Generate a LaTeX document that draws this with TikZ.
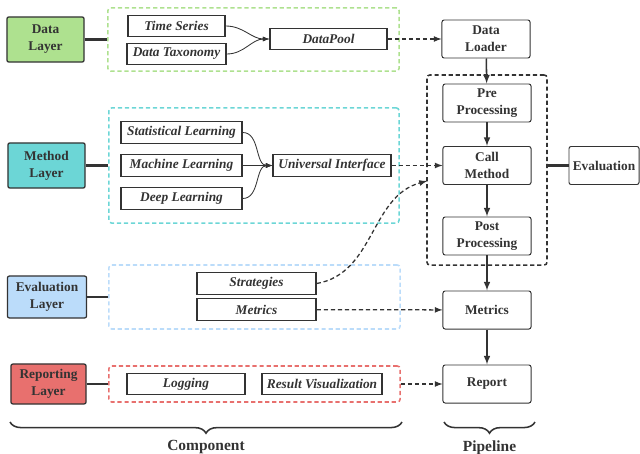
\documentclass[tikz,border=0pt]{standalone}
\usepackage{fontspec}
\setmainfont{Liberation Serif}
\usetikzlibrary{decorations.pathreplacing}
\usepackage{xcolor}

\definecolor{ink}{HTML}{333333}
\definecolor{dataC}{HTML}{AEE18F}
\definecolor{methC}{HTML}{6CD6D6}
\definecolor{evalC}{HTML}{BBDCFA}
\definecolor{repC}{HTML}{E8706E}

\tikzset{
  layer/.style={draw=ink, line width=0.9pt, rounded corners=1.5pt, align=center,
    font=\fontsize{9.5}{12}\selectfont\bfseries, text=ink, inner sep=0pt},
  comp/.style={draw=ink, line width=0.9pt, minimum height=0.54cm, inner sep=0pt,
    font=\fontsize{9.5}{12}\selectfont\bfseries\itshape, text=ink},
  pipe/.style={draw=ink, line width=0.7pt, rounded corners=1.5pt, minimum width=2.2cm,
    minimum height=0.95cm, align=center, inner sep=0pt,
    font=\fontsize{9.5}{12}\selectfont\bfseries, text=ink},
  grp/.style={line width=1.1pt, rounded corners=2pt, dash pattern=on 3pt off 2pt, inner sep=0pt},
  link/.style={draw=ink, line width=1.7pt},
}

\begin{document}
\begin{tikzpicture}[x=0.025cm, y=-0.025cm]
\useasboundingbox (0,0) rectangle (640,454);

% layers
\node[layer, fill=dataC, minimum width=1.93cm, minimum height=1.13cm] at (45.5,39.5) (datal) {Data\\Layer};
\node[layer, fill=methC, minimum width=1.93cm, minimum height=1.13cm] at (46.5,165.5) (methl) {Method\\Layer};
\node[layer, fill=evalC, minimum width=1.98cm, minimum height=1.05cm] at (47,297) (evall) {Evaluation\\Layer};
\node[layer, fill=repC, minimum width=1.88cm, minimum height=1cm] at (48.5,384) (repl) {Reporting\\Layer};

% component groups
\node[grp, draw=dataC, minimum width=7.28cm, minimum height=1.58cm] at (253.5,39.5) (gdata) {};
\node[grp, draw=methC, minimum width=7.25cm, minimum height=2.88cm] at (254,165.5) (gmeth) {};
\node[grp, draw=evalC, minimum width=7.28cm, minimum height=1.6cm] at (254.5,297) (geval) {};
\node[grp, draw=repC, minimum width=7.28cm, minimum height=0.9cm] at (254.5,384) (grep) {};

% components
\node[comp, minimum width=2.43cm] at (176.5,26) (ts) {Time Series};
\node[comp, minimum width=2.48cm] at (176.5,54) (tax) {Data Taxonomy};
\node[comp, minimum width=2.93cm] at (328.5,39) (pool) {DataPool};

\node[comp, minimum width=3.03cm] at (181.5,132.5) (stat) {Statistical Learning};
\node[comp, minimum width=3.03cm] at (181.5,165.5) (ml) {Machine Learning};
\node[comp, minimum width=3.03cm] at (181.5,198.5) (dl) {Deep Learning};
\node[comp, minimum width=2.95cm] at (332,165.5) (ui) {Universal Interface};

\node[comp, minimum width=2.98cm] at (256.5,283.5) (strat) {Strategies};
\node[comp, minimum width=2.98cm] at (256.5,309.5) (metc) {Metrics};

\node[comp, minimum width=2.95cm] at (186,384) (log) {Logging};
\node[comp, minimum width=3cm] at (322,384) (vis) {Result Visualization};

% pipeline
\node[draw=ink, line width=1.1pt, rounded corners=2pt, dash pattern=on 3pt off 2pt,
  minimum width=3cm, minimum height=4.75cm, inner sep=0pt] at (487,170) (gpipe) {};
\node[pipe] at (486,39) (loader) {Data\\Loader};
\node[pipe] at (487,103) (pre) {Pre\\Processing};
\node[pipe] at (487,165.5) (call) {Call\\Method};
\node[pipe] at (487,236) (post) {Post\\Processing};
\node[pipe] at (487,310) (metp) {Metrics};
\node[pipe] at (487,384) (report) {Report};
\node[pipe, minimum width=1.75cm] at (604,165.5) (evalbox) {Evaluation};
\coordinate (callin) at (427,181);

% layer links
\draw[link] (datal) -- (gdata);
\draw[link] (methl) -- (gmeth);
\draw[link] (evall) -- (geval);
\draw[link] (repl) -- (grep);
\draw[link] (gpipe.east |- evalbox.west) -- (evalbox.west);

% inside the groups
\path[->, >=latex, ink, line width=0.6pt] (ts.east) edge [out=0, in=180] (pool.west);
\path[->, >=latex, ink, line width=0.6pt] (tax.east) edge [out=0, in=180] (pool.west);
\path[->, >=latex, ink, line width=0.6pt] (stat.east) edge [out=0, in=180] (ui.west);
\path[->, >=latex, ink, line width=0.6pt] (ml.east) edge (ui.west);
\path[->, >=latex, ink, line width=0.6pt] (dl.east) edge [out=0, in=180] (ui.west);

% dashed feeds into the pipeline
\path[->, >=latex, ink, line width=0.9pt, dash pattern=on 3pt off 2pt] (pool) edge (loader);
\path[->, >=latex, ink, line width=0.9pt, dash pattern=on 3pt off 2pt] (ui) edge (call);
\path[->, >=latex, ink, line width=0.9pt, dash pattern=on 3pt off 2pt] (strat.east) edge [out=10, in=195] (callin);
\path[->, >=latex, ink, line width=0.9pt, dash pattern=on 3pt off 2pt] (metc) edge (metp);
\path[->, >=latex, ink, line width=0.9pt, dash pattern=on 3pt off 2pt] (grep.east) edge (report.west);

% pipeline flow
\path[->, >=latex, ink, line width=1.1pt] (loader) edge (pre);
\path[->, >=latex, ink, line width=1.1pt] (pre) edge (call);
\path[->, >=latex, ink, line width=1.1pt] (call) edge (post);
\path[->, >=latex, ink, line width=1.1pt] (post) edge (metp);
\path[->, >=latex, ink, line width=1.1pt] (metp) edge (report);

% braces
\draw[ink, line width=1.1pt, decorate, decoration={brace, mirror, amplitude=0.28cm}] (10,422) -- (402,422)
  node[midway, below=0.32cm, font=\fontsize{11}{13}\selectfont\bfseries] (lcomp) {Component};
\draw[ink, line width=1.1pt, decorate, decoration={brace, mirror, amplitude=0.28cm}] (444,422) -- (535,422)
  node[midway, below=0.32cm, font=\fontsize{11}{13}\selectfont\bfseries] (lpipe) {Pipeline};

\end{tikzpicture}
\end{document}
